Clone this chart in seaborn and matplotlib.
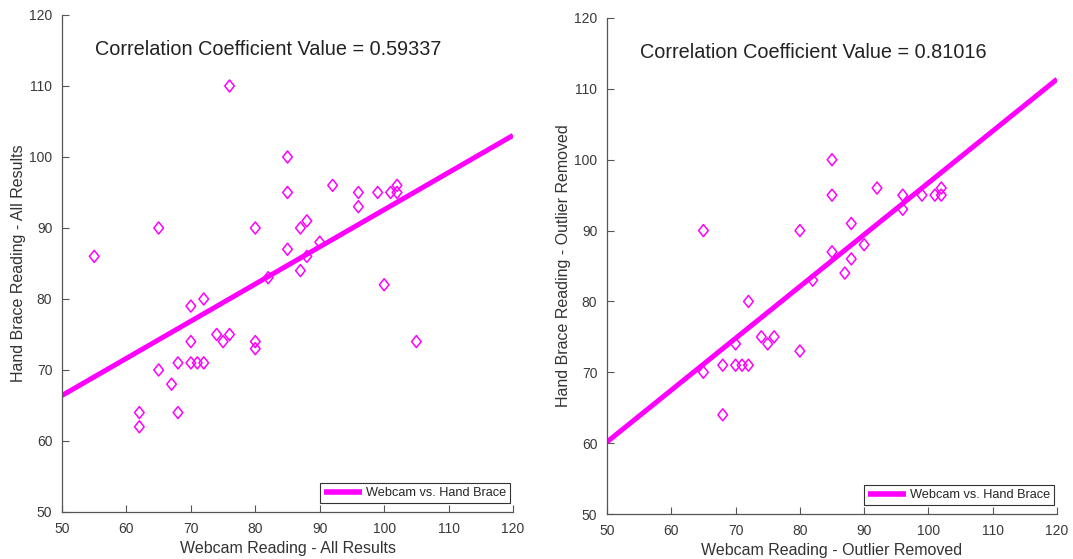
import numpy as np
import pandas as pd
import matplotlib
matplotlib.use("Agg")
import matplotlib.pyplot as plt
from matplotlib.path import Path
import seaborn as sns

# Webcam vs. hand-brace readings, all trials
webcam_all = [55, 65, 76, 85, 85, 80, 85, 82, 87, 87, 88, 88, 90, 92, 96, 96, 99, 101, 102, 102,
              100, 105, 70, 72, 70, 68, 70, 71, 72, 74, 75, 76, 80, 80, 65, 67, 62, 62, 68]
brace_all = [86, 90, 110, 100, 95, 90, 87, 83, 84, 90, 91, 86, 88, 96, 95, 93, 95, 95, 96, 95,
             82, 74, 79, 80, 74, 71, 71, 71, 71, 75, 74, 75, 74, 73, 70, 68, 64, 62, 64]

# Same readings with the outliers taken out
webcam_clean = [65, 65, 68, 68, 70, 70, 71, 72, 72, 74, 75, 76, 80, 80, 82, 85, 85, 85, 92, 96,
                96, 99, 101, 102, 102, 88, 90, 88, 87]
brace_clean = [90, 70, 71, 64, 74, 71, 71, 71, 80, 75, 74, 75, 90, 73, 83, 100, 95, 87, 96, 95,
               93, 95, 95, 96, 95, 91, 88, 86, 84]

corr_labels = ["Correlation Coefficient Value = 0.59337",
               "Correlation Coefficient Value = 0.81016"]
x_labels = ["Webcam Reading - All Results", "Webcam Reading - Outlier Removed"]
y_labels = ["Hand Brace Reading - All Results", "Hand Brace Reading - Outlier Removed"]
legend_label = "Webcam vs. Hand Brace"
ticks = [50, 60, 70, 80, 90, 100, 110, 120]

sns.set_theme(style="white")
plt.rcParams["font.family"] = ["Liberation Sans", "DejaVu Sans"]

MAGENTA = "#ff00ff"
diamond = Path([(0, 1), (0.8, 0), (0, -1), (-0.8, 0), (0, 1)],
               [Path.MOVETO, Path.LINETO, Path.LINETO, Path.LINETO, Path.CLOSEPOLY])

fig = plt.figure(figsize=(10.73, 5.59), dpi=100)
axes = [fig.add_axes([0.0578, 0.0841, 0.4203, 0.8891]),
        fig.add_axes([0.5657, 0.0805, 0.4194, 0.8873])]

datasets = [(webcam_all, brace_all), (webcam_clean, brace_clean)]

for i, (ax, (xs, ys)) in enumerate(zip(axes, datasets)):
    df = pd.DataFrame({"webcam": xs, "brace": ys})
    ax.set_xlim(50, 120)
    ax.set_ylim(50, 120)
    sns.regplot(data=df, x="webcam", y="brace", ax=ax, scatter=False, ci=None,
                truncate=False, color=MAGENTA, line_kws={"linewidth": 3.6, "solid_capstyle": "butt"},
                label=legend_label)
    sns.scatterplot(data=df, x="webcam", y="brace", ax=ax, marker=diamond, s=75,
                    facecolor="none", edgecolor=MAGENTA, linewidth=1.1, zorder=3)
    ax.set_xlim(50, 120)
    ax.set_ylim(50, 120)
    ax.set_xticks(ticks)
    ax.set_yticks(ticks)
    ax.tick_params(direction="in", length=5, width=0.8, colors="#555555",
                   labelcolor="#3a3a3a", labelsize=10, bottom=True, left=True)
    ax.tick_params(axis="x", pad=7)
    ax.tick_params(axis="y", pad=7)
    for side in ("top", "right"):
        ax.spines[side].set_visible(False)
    for side in ("left", "bottom"):
        ax.spines[side].set_color("#555555")
        ax.spines[side].set_linewidth(0.9)
    ax.set_xlabel(x_labels[i], fontsize=11.5, color="#333333", labelpad=4)
    ax.set_ylabel(y_labels[i], fontsize=11.5, color="#333333", labelpad=2)
    ax.text(55.1, 115.2, corr_labels[i], fontsize=14.3, color="#222222", va="center", ha="left")
    leg = ax.legend(loc="lower right", bbox_to_anchor=(0.993, 0.018), fontsize=9.2,
                    frameon=True, fancybox=False, handlelength=3.0, borderpad=0.3,
                    handletextpad=0.3, borderaxespad=0)
    leg.get_frame().set_edgecolor("#333333")
    leg.get_frame().set_linewidth(0.8)
    leg.get_frame().set_alpha(1)
    for line in leg.get_lines():
        line.set_linewidth(4)

fig.savefig("out.png", dpi=100, facecolor="white")
